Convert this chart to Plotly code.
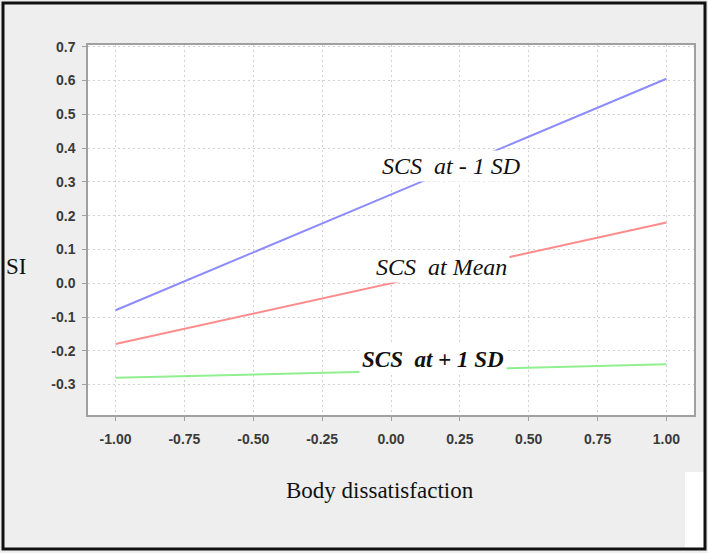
import plotly.graph_objects as go

x_vals = [-1.0, 1.0]
low_sd = [-0.08, 0.605]
mean_vals = [-0.18, 0.18]
high_sd = [-0.28, -0.24]
x_ticks = [-1.0, -0.75, -0.5, -0.25, 0.0, 0.25, 0.5, 0.75, 1.0]
y_ticks = [-0.3, -0.2, -0.1, 0.0, 0.1, 0.2, 0.3, 0.4, 0.5, 0.6, 0.7]

W, H = 708, 553
L, R, T, B = 88, 14, 45, 138
pw, ph = W - L - R, H - T - B

def px(xp):
    return (xp - L) / pw

def py(yp):
    return (H - B - yp) / ph

fig = go.Figure()
fig.add_trace(go.Scatter(x=x_vals, y=low_sd, mode="lines", line=dict(color="#8c8cff", width=2), showlegend=False))
fig.add_trace(go.Scatter(x=x_vals, y=mean_vals, mode="lines", line=dict(color="#ff8c8c", width=2), showlegend=False))
fig.add_trace(go.Scatter(x=x_vals, y=high_sd, mode="lines", line=dict(color="#90f090", width=2), showlegend=False))

serif = "Liberation Serif"
nb = "\u00a0"
anns = [
    dict(x=0.216, y=0.346, text=f"<i>SCS{nb}{nb}at - 1 SD</i>", font=dict(family=serif, size=24, color="#111")),
    dict(x=0.183, y=0.047, text=f"<i>SCS{nb}{nb}at Mean</i>", font=dict(family=serif, size=24, color="#111")),
    dict(x=0.151, y=-0.225, text=f"<b><i>SCS{nb}{nb}at + 1 SD</i></b>", font=dict(family=serif, size=23, color="#111")),
]
for a in anns:
    fig.add_annotation(xref="x", yref="y", showarrow=False, bgcolor="white", borderpad=2,
                       xanchor="center", yanchor="middle", **a)

fig.add_annotation(xref="paper", yref="paper", x=px(16), y=py(266), text="SI", showarrow=False,
                   xanchor="center", yanchor="middle", font=dict(family=serif, size=23, color="#111"))
fig.add_annotation(xref="paper", yref="paper", x=px(380), y=py(490), text="Body dissatisfaction", showarrow=False,
                   xanchor="center", yanchor="middle", font=dict(family=serif, size=23, color="#111"))

# white patch bottom right and outer frame
fig.add_shape(type="rect", xref="paper", yref="paper", x0=px(685), x1=px(705), y0=py(548), y1=py(472),
              fillcolor="white", line=dict(width=0), layer="below")
fig.add_shape(type="rect", xref="paper", yref="paper", x0=px(3), x1=px(705), y0=py(549), y1=py(3),
              line=dict(color="#111", width=3), fillcolor="rgba(0,0,0,0)")

axis_common = dict(showline=True, linecolor="#a0a0a0", linewidth=1.5, mirror=True,
                   ticks="outside", ticklen=4, tickcolor="#a0a0a0",
                   showgrid=True, gridcolor="#d2d2d2", griddash="2px,3px", gridwidth=1,
                   zeroline=False, tickfont=dict(family="Liberation Sans", size=14, color="#3a3a3a", weight="bold"))

fig.update_xaxes(range=[-1.1, 1.1], tickvals=x_ticks, ticktext=[f"{v:.2f}" for v in x_ticks],
                 ticklabelstandoff=6, **axis_common)
fig.update_yaxes(range=[-0.39, 0.705], tickvals=y_ticks, ticktext=[f"{v:.1f}" for v in y_ticks],
                 ticklabelstandoff=4, **axis_common)

fig.update_layout(width=W, height=H, margin=dict(l=L, r=R, t=T, b=B),
                  paper_bgcolor="#eeeeee", plot_bgcolor="white")
fig.write_html("out.html", config={"displayModeBar": False},
               post_script="document.body.style.margin='0';")
